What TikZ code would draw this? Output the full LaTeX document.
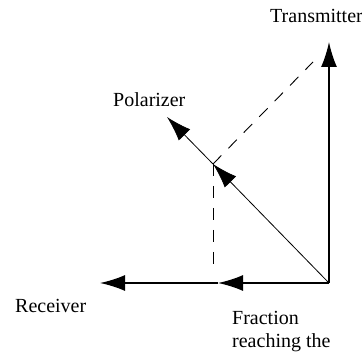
\documentclass[tikz,border=0pt]{standalone}
\usepackage{fontspec}
\setmainfont{Liberation Serif}
\usetikzlibrary{positioning,arrows.meta}

\begin{document}
\begin{tikzpicture}[
  x=1pt, y=-1pt,
  vetor/.style={-{Latex[length=25pt, width=16pt]}, line width=1.6pt, draw=black},
  vetorfino/.style={vetor, line width=0.8pt},
  proj/.style={dash pattern=on 12pt off 10pt, line width=0.9pt},
  rotulo/.style={font=\fontsize{20}{23}\selectfont, inner sep=0pt, anchor=west, align=left}
]
\useasboundingbox (0,0) rectangle (362,352);

% ---------------- Pontos ----------------
\coordinate (o)   at (329,283);
\coordinate (tx)  at (329,42);
\coordinate (pol) at (167,117);
\coordinate (p)   at (213,164);
\coordinate (q)   at (218,283);
\coordinate (qd)  at (213,265);
\coordinate (td)  at (313,62);
\coordinate (rx)  at (100,283);

% ---------------- Rotulos ----------------
\node[rotulo] (ltx)  at (270,16)  {Transmitter};
\node[rotulo] (lpol) at (113,100) {Polarizer};
\node[rotulo] (lrx)  at (15,306)  {Receiver};
\node[rotulo, anchor=north west] (lfr) at (232,311) {Fraction\\reaching the};

% ---------------- Projecoes ----------------
\draw[proj] (p) -- (td);
\draw[proj] (p) -- (qd);

% ---------------- Vetores ----------------
\draw[vetor] (o) -- (tx);
\draw[vetorfino] (o) -- (p);
\draw[vetorfino] (p) -- (pol);
\draw[vetor] (o) -- (q);
\draw[vetor] (q) -- (rx);

\end{tikzpicture}
\end{document}
